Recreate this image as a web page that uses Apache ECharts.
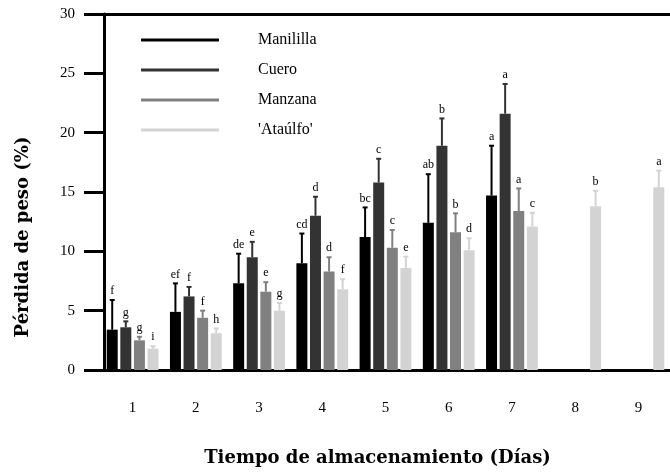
<!DOCTYPE html>
<html><head><meta charset="utf-8">
<script src="https://cdn.jsdelivr.net/npm/echarts@6/dist/echarts.min.js"></script>
<style>html,body{margin:0;padding:0;background:#fff}#c{width:670px;height:472px}</style>
</head><body><div id="c"></div>
<script>
const days = ['1','2','3','4','5','6','7','8','9'];
const seriesNames = ['Manililla', 'Cuero', 'Manzana', "'Ataúlfo'"];
const manililla    = [3.4, 4.9, 7.3, 9.0, 11.2, 12.4, 14.7, null, null];
const manilillaErr = [2.5, 2.4, 2.5, 2.5, 2.5, 4.1, 4.2, null, null];
const cuero        = [3.6, 6.2, 9.5, 13.0, 15.8, 18.9, 21.6, null, null];
const cueroErr     = [0.5, 0.8, 1.3, 1.6, 2.0, 2.3, 2.5, null, null];
const manzana      = [2.5, 4.4, 6.6, 8.3, 10.3, 11.6, 13.4, null, null];
const manzanaErr   = [0.3, 0.6, 0.8, 1.2, 1.5, 1.6, 1.9, null, null];
const ataulfo      = [1.8, 3.1, 5.0, 6.8, 8.6, 10.1, 12.1, 13.8, 15.4];
const ataulfoErr   = [0.2, 0.4, 0.65, 0.85, 0.95, 1.0, 1.15, 1.3, 1.4];
const manililliaLetters = ['f','ef','de','cd','bc','ab','a', '', ''];
const cueroLetters   = ['g','f','e','d','c','b','a', '', ''];
const manzanaLetters = ['g','f','e','d','c','b','a', '', ''];
const ataulfoLetters = ['i','h','g','f','e','d','c','b','a'];
const yTicks = [0, 5, 10, 15, 20, 25, 30];

const colors = ['#000000', '#333333', '#808080', '#d3d3d3'];
const values = [manililla, cuero, manzana, ataulfo];
const errs = [manilillaErr, cueroErr, manzanaErr, ataulfoErr];
const letters = [manililliaLetters, cueroLetters, manzanaLetters, ataulfoLetters];

const BAR_W = 11, BAR_GAP = 2.6;
const serif = "'Liberation Serif', 'DejaVu Serif', serif";

const chart = echarts.init(document.getElementById('c'));
const series = [];
values.forEach((vals, i) => {
  series.push({
    name: seriesNames[i], type: 'bar', data: vals,
    barWidth: BAR_W, barGap: (BAR_GAP / BAR_W * 100) + '%',
    itemStyle: { color: colors[i] }, z: 2
  });
});
values.forEach((vals, i) => {
  const offset = (i - 1.5) * (BAR_W + BAR_GAP);
  const data = vals.map((v, k) => v == null ? null : [k, v, v + errs[i][k], letters[i][k]]).filter(d => d);
  series.push({
    name: 'err' + i, type: 'custom', z: 3,
    data: data,
    renderItem: function (params, api) {
      const x = api.value(0), v = api.value(1), up = api.value(2);
      const p0 = api.coord([x, v]);
      const p1 = api.coord([x, up]);
      const cx = p0[0] + offset;
      const lab = data[params.dataIndex][3];
      return {
        type: 'group',
        children: [
          { type: 'line', shape: { x1: cx, y1: p0[1], x2: cx, y2: p1[1] }, style: { stroke: colors[i], lineWidth: 2 } },
          { type: 'line', shape: { x1: cx - 2.5, y1: p1[1], x2: cx + 2.5, y2: p1[1] }, style: { stroke: colors[i], lineWidth: 2 } },
          { type: 'text', style: { text: lab, x: cx, y: p1[1] - 3, align: 'center', verticalAlign: 'bottom', fill: '#000', font: '12px ' + serif } }
        ]
      };
    }
  });
});

chart.setOption({
  animation: false,
  backgroundColor: '#fff',
  grid: { left: 101, top: 14, width: 9 * 63.75, height: 357, containLabel: false },
  legend: {
    data: seriesNames, orient: 'vertical', left: 136, top: 27, icon: 'rect',
    itemWidth: 78, itemHeight: 3, itemGap: 14,
    textStyle: { fontFamily: serif, fontSize: 16, color: '#000', padding: [0, 0, 0, 34] },
    selectedMode: false
  },
  xAxis: [{
    type: 'category', data: days, position: 'bottom',
    axisLine: { lineStyle: { color: '#000', width: 3 } },
    axisTick: { alignWithLabel: true, length: 10, lineStyle: { width: 3, color: '#000' } },
    axisLabel: { margin: 31, fontFamily: serif, fontSize: 15, color: '#000' },
    name: 'Tiempo de almacenamiento (Días)', nameLocation: 'middle', nameGap: 79,
    nameTextStyle: { fontFamily: "'DejaVu Serif', serif", fontWeight: 'bold', fontSize: 18, color: '#000', padding: [0, 16, 0, 0] }
  }, {
    type: 'category', data: days, position: 'top',
    axisLine: { lineStyle: { color: '#000', width: 3 } },
    axisTick: { show: false }, axisLabel: { show: false }
  }],
  yAxis: {
    type: 'value', min: yTicks[0], max: yTicks[yTicks.length - 1], interval: 5, offset: -3,
    axisLine: { show: true, lineStyle: { color: '#000', width: 3 } },
    axisTick: { show: true, length: 20, lineStyle: { width: 3, color: '#000' } },
    splitLine: { show: false },
    axisLabel: { margin: 29, fontFamily: serif, fontSize: 15, color: '#000' },
    name: 'Pérdida de peso (%)', nameLocation: 'middle', nameGap: 72, nameRotate: 90,
    nameTextStyle: { fontFamily: "'DejaVu Serif', serif", fontWeight: 'bold', fontSize: 18, color: '#000', padding: [0, 90, 0, 0] }
  },
  series: series
});
</script></body></html>
